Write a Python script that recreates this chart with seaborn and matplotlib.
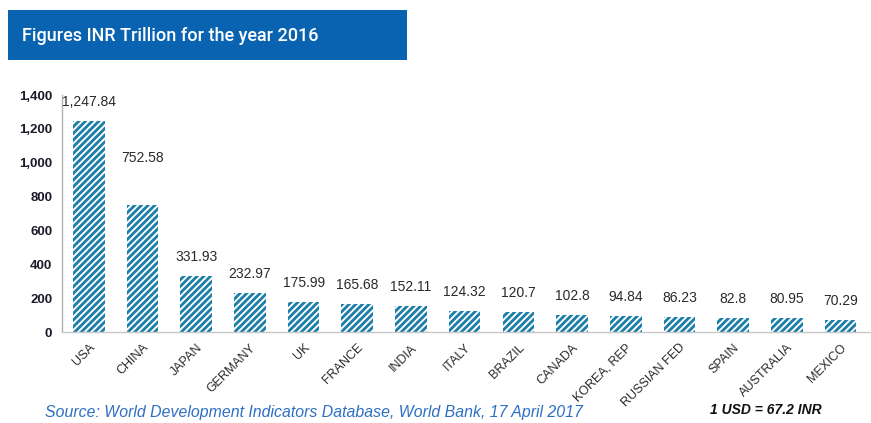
import matplotlib
matplotlib.use("Agg")
import matplotlib.pyplot as plt
import matplotlib.patches as mpatches
import seaborn as sns
import pandas as pd

# Data (INR trillion, 2016)
countries = ["USA", "CHINA", "JAPAN", "GERMANY", "UK", "FRANCE", "INDIA", "ITALY",
             "BRAZIL", "CANADA", "KOREA, REP", "RUSSIAN FED", "SPAIN", "AUSTRALIA", "MEXICO"]
values = [1247.84, 752.58, 331.93, 232.97, 175.99, 165.68, 152.11, 124.32,
          120.7, 102.8, 94.84, 86.23, 82.8, 80.95, 70.29]
value_labels = ["1,247.84", "752.58", "331.93", "232.97", "175.99", "165.68", "152.11",
                "124.32", "120.7", "102.8", "94.84", "86.23", "82.8", "80.95", "70.29"]

df = pd.DataFrame({"country": countries, "value": values})

sns.set_theme(style="white")
plt.rcParams["font.family"] = ["Liberation Sans", "DejaVu Sans"]
plt.rcParams["hatch.linewidth"] = 2.0

bar_color = "#1A7EA8"

fig = plt.figure(figsize=(8.71, 4.23), dpi=100)
ax = fig.add_axes([62 / 871, 1 - 332 / 423, 808 / 871, (332 - 95) / 423])

sns.barplot(data=df, x="country", y="value", ax=ax, color="white", width=0.59)
for p in ax.patches:
    p.set_hatch("/////")
    p.set_edgecolor(bar_color)
    p.set_linewidth(0)

# label offsets above bar tops (China label sits higher in the original)
for i, (v, lab) in enumerate(zip(values, value_labels)):
    off = 275 if countries[i] == "CHINA" else 112
    ax.text(i, v + off, lab, ha="center", va="center", fontsize=10,
            color="#2a2a2a", clip_on=False)

ax.set_ylim(0, 1400)
ax.set_xlim(-0.5, len(countries) - 0.45)
ax.set_yticks(range(0, 1401, 200))
ax.set_yticklabels([f"{t:,}" for t in range(0, 1401, 200)], fontsize=9.5,
                   fontweight="bold", color="#1a1a2a")
ax.set_xticks(range(len(countries)))
ax.set_xticklabels(countries, rotation=45, ha="right", rotation_mode="anchor",
                   fontsize=9, color="#2a2a2a")
ax.set_xlabel("")
ax.set_ylabel("")
ax.tick_params(axis="both", length=0, pad=7)

for s in ["top", "right"]:
    ax.spines[s].set_visible(False)
ax.spines["left"].set_color("#b0b0b0")
ax.spines["bottom"].set_color("#c8c8c8")
ax.spines["left"].set_linewidth(1)
ax.spines["bottom"].set_linewidth(1)

# header banner
banner = mpatches.Rectangle((8 / 871, 1 - 60 / 423), 399 / 871, 50 / 423,
                            transform=fig.transFigure, facecolor="#0A63B0",
                            edgecolor="none")
fig.patches.append(banner)
fig.text(22 / 871, 1 - 36 / 423, "Figures INR Trillion for the year 2016",
         color="white", fontsize=13, va="center", ha="left",
         fontweight="medium", family=["Roboto", "DejaVu Sans"])

fig.text(45 / 871, 1 - 412 / 423,
         "Source: World Development Indicators Database, World Bank, 17 April 2017",
         color="#2E6FC4", fontsize=11.4, style="italic", va="center", ha="left")
fig.text(710 / 871, 1 - 410 / 423, "1 USD = 67.2 INR", color="#111111",
         fontsize=10, style="italic", fontweight="bold", va="center", ha="left")

fig.savefig("out.png", dpi=100)
